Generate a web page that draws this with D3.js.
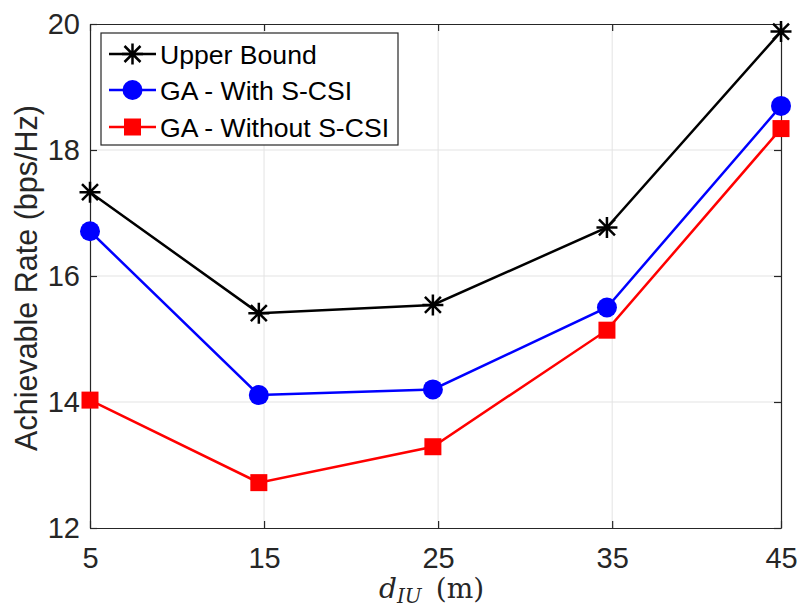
<!DOCTYPE html>
<html>
<head>
<meta charset="utf-8">
<script src="https://cdn.jsdelivr.net/npm/d3@7"></script>
<style>
  body { margin: 0; background: #fff; }
  svg { font-family: "Liberation Sans", Arial, sans-serif; }
</style>
</head>
<body>
<div id="chart"></div>
<script>
// data
const distances = [5, 14.7, 24.7, 34.7, 44.7];
const upperBound = [17.33, 15.41, 15.54, 16.77, 19.88];
const gaWithSCSI = [16.71, 14.11, 14.2, 15.5, 18.7];
const gaWithoutSCSI = [14.03, 12.72, 13.29, 15.14, 18.34];
const seriesNames = ["Upper Bound", "GA - With S-CSI", "GA - Without S-CSI"];
const xTickPos = [5, 15, 25, 35, 44.7];
const xTickLabels = ["5", "15", "25", "35", "45"];
const yTicks = [12, 14, 16, 18, 20];

const w = 797, h = 608;
const padL = 90, padR = 781, padT = 24, padB = 528;

const svg = d3.select("#chart").append("svg")
  .attr("width", w).attr("height", h);

const x = d3.scaleLinear().domain([5, 44.7]).range([padL, padR]);
const y = d3.scaleLinear().domain([12, 20]).range([padB, padT]);

// grid
svg.append("g").selectAll("line")
  .data(xTickPos.slice(1, -1))
  .join("line")
  .attr("x1", d => x(d)).attr("x2", d => x(d))
  .attr("y1", padT).attr("y2", padB)
  .attr("stroke", "#e3e3e3").attr("stroke-width", 1);
svg.append("g").selectAll("line")
  .data(yTicks.slice(1, -1))
  .join("line")
  .attr("x1", padL).attr("x2", padR)
  .attr("y1", d => y(d)).attr("y2", d => y(d))
  .attr("stroke", "#e3e3e3").attr("stroke-width", 1);

// axes (box with inward ticks)
const axColor = "#262626";
function styleAxis(g, showText) {
  g.select(".domain").attr("stroke", axColor).attr("stroke-width", 1.2);
  g.selectAll(".tick line").attr("stroke", axColor).attr("stroke-width", 1.2);
  g.selectAll(".tick text").attr("fill", axColor)
    .style("font-size", "29px")
    .style("font-family", "'Liberation Sans', Arial, sans-serif")
    .style("display", showText ? null : "none");
}

const xAxis = d3.axisBottom(x).tickValues(xTickPos)
  .tickFormat((d, i) => xTickLabels[i]).tickSizeInner(-7).tickSizeOuter(0).tickPadding(19);
svg.append("g").attr("transform", `translate(0,${padB})`).call(xAxis).call(g => styleAxis(g, true));

svg.append("g").attr("transform", `translate(0,${padT})`)
  .call(d3.axisTop(x).tickValues(xTickPos).tickSizeInner(-7).tickSizeOuter(0))
  .call(g => styleAxis(g, false));

const yAxis = d3.axisLeft(y).tickValues(yTicks).tickFormat(d3.format("d"))
  .tickSizeInner(-7).tickSizeOuter(0).tickPadding(10);
svg.append("g").attr("transform", `translate(${padL},0)`).call(yAxis).call(g => styleAxis(g, true));

svg.append("g").attr("transform", `translate(${padR},0)`)
  .call(d3.axisRight(y).tickValues(yTicks).tickSizeInner(-7).tickSizeOuter(0))
  .call(g => styleAxis(g, false));

// axis labels
svg.append("text")
  .attr("transform", `translate(37,${(padT + padB) / 2 + 2}) rotate(-90)`)
  .attr("text-anchor", "middle")
  .attr("fill", axColor)
  .style("font-size", "30.5px")
  .text("Achievable Rate (bps/Hz)");

const xl = svg.append("text")
  .attr("x", 379).attr("y", 598)
  .attr("fill", axColor)
  .style("font-family", "'DejaVu Serif', 'Liberation Serif', serif")
  .style("font-size", "28px");
xl.append("tspan").style("font-style", "italic").text("d");
xl.append("tspan").attr("dy", 5).style("font-style", "italic").style("font-size", "20px").text("IU");
xl.append("tspan").attr("dy", -5).attr("dx", 14).text("(m)");

// series
const series = [
  { name: seriesNames[0], values: upperBound, color: "#000000", marker: "star" },
  { name: seriesNames[1], values: gaWithSCSI, color: "#0000ff", marker: "circle" },
  { name: seriesNames[2], values: gaWithoutSCSI, color: "#ff0000", marker: "square" }
];

const line = d3.line().x((d, i) => x(distances[i])).y(d => y(d));

function drawMarker(g, type, color) {
  if (type === "circle") {
    g.append("circle").attr("r", 10).attr("fill", color);
  } else if (type === "square") {
    g.append("rect").attr("x", -8.5).attr("y", -8.5).attr("width", 17).attr("height", 17).attr("fill", color);
  } else {
    const s = 10.5, d = 8;
    g.append("path")
      .attr("d", `M${-s},0L${s},0M0,${-s}L0,${s}M${-d},${-d}L${d},${d}M${-d},${d}L${d},${-d}`)
      .attr("stroke", color).attr("stroke-width", 2.5).attr("fill", "none");
  }
}

series.forEach(s => {
  svg.append("path")
    .datum(s.values)
    .attr("d", line)
    .attr("fill", "none")
    .attr("stroke", s.color)
    .attr("stroke-width", 2.5);
  s.values.forEach((v, i) => {
    const g = svg.append("g").attr("transform", `translate(${x(distances[i])},${y(v)})`);
    drawMarker(g, s.marker, s.color);
  });
});

// legend
const legend = svg.append("g");
legend.append("rect")
  .attr("x", 101).attr("y", 33).attr("width", 297).attr("height", 112)
  .attr("fill", "#fff").attr("stroke", axColor).attr("stroke-width", 1.2);
const rowY = [54, 90, 127];
series.forEach((s, i) => {
  const ly = rowY[i];
  legend.append("line")
    .attr("x1", 109).attr("x2", 156).attr("y1", ly).attr("y2", ly)
    .attr("stroke", s.color).attr("stroke-width", 2.5);
  drawMarker(legend.append("g").attr("transform", `translate(132.5,${ly})`), s.marker, s.color);
  legend.append("text")
    .attr("x", 160).attr("y", ly).attr("dy", "0.36em")
    .attr("fill", "#000")
    .style("font-size", "26.6px")
    .text(s.name);
});
</script>
</body>
</html>
